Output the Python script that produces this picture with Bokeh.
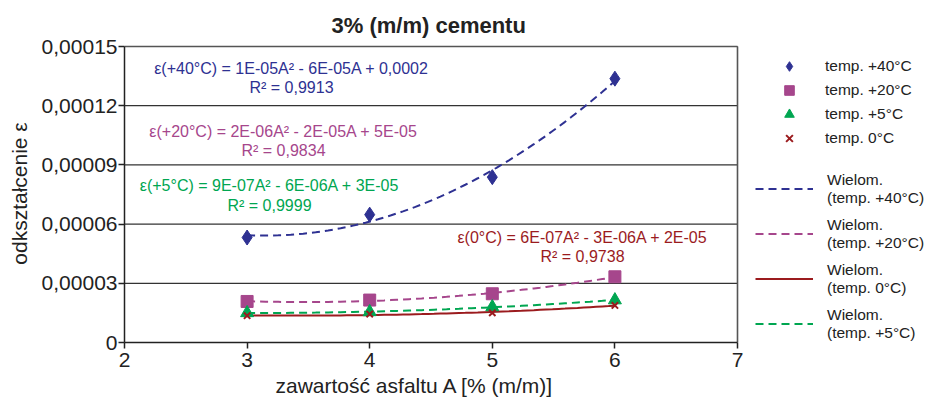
import numpy as np
from bokeh.plotting import figure
from bokeh.models import FixedTicker, Legend, LegendItem, Label, Range1d, Title
from bokeh.embed import file_html
from bokeh.resources import INLINE

# ---- data ----
asphalt = [3, 4, 5, 6]
eps_40 = [5.32e-5, 6.48e-5, 8.38e-5, 13.37e-5]
eps_20 = [2.08e-5, 2.15e-5, 2.47e-5, 3.33e-5]
eps_5 = [1.50e-5, 1.55e-5, 1.80e-5, 2.15e-5]
eps_0 = [1.36e-5, 1.44e-5, 1.50e-5, 1.88e-5]

y_ticks = [0, 3e-5, 6e-5, 9e-5, 12e-5, 15e-5]
y_tick_labels = ["0", "0,00003", "0,00006", "0,00009", "0,00012", "0,00015"]
x_ticks = [2, 3, 4, 5, 6, 7]

eq_texts = {
    "40": ("ε(+40°C) = 1E-05A² - 6E-05A + 0,0002", "R² = 0,9913"),
    "20": ("ε(+20°C) = 2E-06A² - 2E-05A + 5E-05", "R² = 0,9834"),
    "5": ("ε(+5°C) = 9E-07A² - 6E-06A + 3E-05", "R² = 0,9999"),
    "0": ("ε(0°C) = 6E-07A² - 3E-06A + 2E-05", "R² = 0,9738"),
}

C40 = "#2E3192"
C20 = "#A6468C"
C5 = "#00A651"
C0 = "#9B1B1E"
FONT = "Liberation Sans"

# ---- layout (pixels) ----
W, H = 927, 405
FL, FR_AX, FT_AX, FB = 124, 737, 46, 342   # plot box: x 2..7, y 0..0.00015
X0, X1, Y0, Y1 = 2, 7, 0, 15e-5
ppx = (FR_AX - FL) / (X1 - X0)
ppy = (FB - FT_AX) / (Y1 - Y0)
x_end = X0 + (W - FL) / ppx
y_end = Y1 + 2 / ppy

def px2x(px):
    return X0 + (px - FL) / ppx

def py2y(py):
    return (FB - py) / ppy

p = figure(width=W, height=H, output_backend="svg", toolbar_location=None,
           x_range=Range1d(X0, x_end), y_range=Range1d(Y0, y_end),
           min_border_left=FL, min_border_right=0, min_border_top=FT_AX - 2,
           min_border_bottom=H - FB)
p.title.text = "3% (m/m) cementu"
p.title.align = "left"
p.title.offset = 207
p.title.standoff = 14
p.title.text_font = FONT
p.title.text_font_size = "22px"
p.title.text_font_style = "bold"
p.title.text_color = "#222222"

p.outline_line_color = None
p.xgrid.grid_line_color = None
p.ygrid.grid_line_color = None

p.yaxis.ticker = FixedTicker(ticks=y_ticks)
p.yaxis.major_label_overrides = {t: l for t, l in zip(y_ticks, y_tick_labels)}
p.yaxis.bounds = (Y0, Y1)
p.xaxis.ticker = FixedTicker(ticks=x_ticks)
p.xaxis.bounds = (X0, X1)
for ax in (p.xaxis, p.yaxis):
    ax.axis_line_color = "#222222"
    ax.axis_line_width = 1.5
    ax.major_tick_line_color = "#222222"
    ax.major_tick_line_width = 1.5
    ax.major_tick_out = 6
    ax.major_tick_in = 0
    ax.minor_tick_line_color = None
    ax.major_label_text_font = FONT
    ax.major_label_text_font_size = "21px"
    ax.major_label_text_color = "#222222"
    ax.axis_label_text_font = FONT
    ax.axis_label_text_font_size = "21px"
    ax.axis_label_text_font_style = "normal"
    ax.axis_label_text_color = "#222222"
p.yaxis.axis_label = "odkształcenie ε"
p.xaxis.major_label_standoff = 4
p.yaxis.major_label_standoff = 1
p.yaxis.axis_label_standoff = 8

# x-axis title, placed under the plot box (left part of the figure)
xlab = Title(text="zawartość asfaltu A [% (m/m)]", align="left", offset=151,
             standoff=4, text_font=FONT, text_font_size="21px",
             text_font_style="normal", text_color="#222222")
p.add_layout(xlab, "below")

# grid lines and plot-box border
n = len(y_ticks)
p.segment(x0=[X0] * n, y0=y_ticks, x1=[X1] * n, y1=y_ticks,
          line_color="#333333", line_width=1.2)
p.segment(x0=[X0], y0=[Y1], x1=[X1], y1=[Y1], line_color="#555555", line_width=1.6)
p.segment(x0=[X1], y0=[Y0], x1=[X1], y1=[Y1], line_color="#555555", line_width=1.6)

# trend lines (2nd-degree polynomial fitted to the data)
xs = np.linspace(3, 6, 60)
def fit(vals):
    return np.polyval(np.polyfit(asphalt, vals, 2), xs)

l40 = p.line(xs, fit(eps_40), line_color=C40, line_width=2, line_dash="8 5")
l20 = p.line(xs, fit(eps_20), line_color=C20, line_width=2, line_dash="8 5")
l0 = p.line(xs, fit(eps_0), line_color=C0, line_width=2)
l5 = p.line(xs, fit(eps_5), line_color=C5, line_width=2, line_dash="8 5")

m40 = p.scatter(asphalt, eps_40, marker="diamond", size=15, color=C40)
m20 = p.scatter(asphalt, eps_20, marker="square", size=12, color=C20)
m5 = p.scatter(asphalt, eps_5, marker="triangle", size=13, color=C5)
m0 = p.scatter(asphalt, eps_0, marker="x", size=9, line_color=C0, line_width=2)

# equation labels (two centred lines each)
def add_eq(key, color, cx, y1, y2):
    t1, t2 = eq_texts[key]
    for t, y in ((t1, y1), (t2, y2)):
        p.add_layout(Label(x=px2x(cx), y=py2y(y), text=t, text_color=color,
                           text_font=FONT, text_font_size="16px",
                           text_align="center", text_baseline="middle"))

add_eq("40", C40, 291, 68, 87)
add_eq("20", C20, 283, 131, 150)
add_eq("5", C5, 269, 185, 205)
add_eq("0", C0, 582, 237, 256)

leg1 = Legend(items=[
    LegendItem(label="temp. +40°C", renderers=[m40]),
    LegendItem(label="temp. +20°C", renderers=[m20]),
    LegendItem(label="temp. +5°C", renderers=[m5]),
    LegendItem(label="temp. 0°C", renderers=[m0]),
], location=(774 - FL, FB - 150), glyph_width=30, glyph_height=24, label_height=24,
    spacing=0, padding=0, margin=0, label_standoff=21,
    label_text_font=FONT, label_text_font_size="15.5px", label_text_color="#222222",
    background_fill_alpha=0, border_line_alpha=0)

leg2 = Legend(items=[
    LegendItem(label="Wielom.\n(temp. +40°C)", renderers=[l40]),
    LegendItem(label="Wielom.\n(temp. +20°C)", renderers=[l20]),
    LegendItem(label="Wielom.\n(temp. 0°C)", renderers=[l0]),
    LegendItem(label="Wielom.\n(temp. +5°C)", renderers=[l5]),
], location=(755 - FL, 0), glyph_width=58, glyph_height=37, label_height=37,
    spacing=8, padding=0, margin=0, label_standoff=14,
    label_text_font=FONT, label_text_font_size="15.5px", label_text_color="#222222",
    background_fill_alpha=0, border_line_alpha=0)
p.add_layout(leg1)
p.add_layout(leg2)

open("out.html", "w").write(file_html(p, INLINE))
